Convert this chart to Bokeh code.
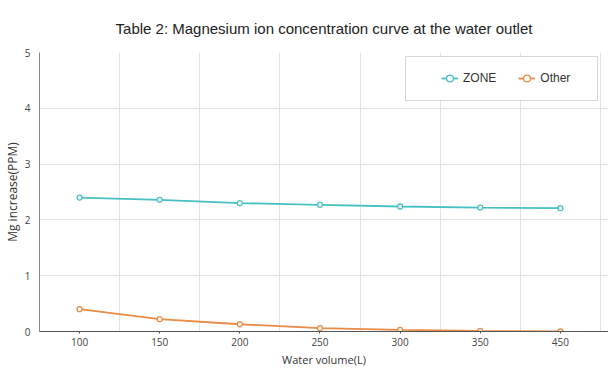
from bokeh.plotting import figure
from bokeh.models import FixedTicker, Legend, LegendItem, BoxAnnotation, Range1d
from bokeh.embed import file_html
from bokeh.resources import INLINE

title_text = "Table 2: Magnesium ion concentration curve at the water outlet"
categories = ["100", "150", "200", "250", "300", "350", "450"]
zone = [2.40, 2.36, 2.30, 2.27, 2.24, 2.22, 2.21]
other = [0.40, 0.22, 0.13, 0.06, 0.03, 0.01, 0.00]
y_ticks = [0, 1, 2, 3, 4, 5]

xs = list(range(len(categories)))

p = figure(frame_width=569, frame_height=279, output_backend="svg", toolbar_location=None,
           x_range=Range1d(-0.5, len(categories) - 0.5 + 0.1), y_range=Range1d(0, 5),
           min_border_left=29, min_border_right=0, min_border_top=52, min_border_bottom=33)
p.outline_line_color = None

p.title.text = title_text
p.title.align = "center"
p.title.vertical_align = "top"
p.title.text_font = "Liberation Sans"
p.title.text_font_size = "15px"
p.title.text_font_style = "normal"
p.title.text_color = "#222222"
p.title.standoff = 28

teal = "#45c1c4"
orange = "#ea8a45"

r1 = p.line(xs, zone, line_color=teal, line_width=1.8)
c1 = p.scatter(xs, zone, marker="circle", size=5, fill_color="white", line_color=teal, line_width=1.3)
r2 = p.line(xs, other, line_color=orange, line_width=1.8)
c2 = p.scatter(xs, other, marker="circle", size=5, fill_color="white", line_color=orange, line_width=1.3)

# axes
p.xaxis.ticker = FixedTicker(ticks=xs)
p.xaxis.major_label_overrides = {i: c for i, c in enumerate(categories)}
p.xaxis.axis_label = "Water volume(L)"
p.yaxis.ticker = FixedTicker(ticks=y_ticks)
p.yaxis.axis_label = "Mg increase(PPM)"
for ax in (p.xaxis, p.yaxis):
    ax.axis_label_text_font = "Open Sans"
    ax.axis_label_text_font_style = "normal"
    ax.axis_label_text_color = "#333333"
    ax.major_label_text_font = "Open Sans"
    ax.major_label_text_font_size = "10px"
    ax.major_label_text_color = "#444444"
    ax.minor_tick_line_color = None
p.xaxis.axis_label_text_font_size = "11px"
p.yaxis.axis_label_text_font_size = "12px"
p.xaxis.axis_line_color = "#555555"
p.xaxis.major_tick_line_color = "#555555"
p.xaxis.major_tick_in = 0
p.xaxis.major_tick_out = 2
p.xaxis.major_label_standoff = 4
p.xaxis.axis_label_standoff = 3
p.yaxis.axis_line_color = "#888888"
p.yaxis.major_tick_line_color = None
p.yaxis.major_label_standoff = 3
p.yaxis.axis_label_standoff = 1

p.xgrid.ticker = FixedTicker(ticks=[i + 0.5 for i in xs])
p.xgrid.grid_line_color = "#e2e2e2"
p.ygrid.grid_line_color = "#e2e2e2"

box = BoxAnnotation(left=366, right=558, bottom=231, top=275,
                    left_units="screen", right_units="screen",
                    bottom_units="screen", top_units="screen",
                    fill_color="white", fill_alpha=1, line_color="#777777", line_width=1)
p.add_layout(box)

legend = Legend(items=[LegendItem(label="ZONE", renderers=[r1, c1]),
                       LegendItem(label="Other", renderers=[r2, c2])],
                location=(402, 243), orientation="horizontal",
                padding=0, spacing=22, glyph_width=17, glyph_height=20,
                label_standoff=5, border_line_alpha=0, background_fill_alpha=0,
                label_text_font="Liberation Sans", label_text_font_size="12px",
                label_text_color="#333333")
p.add_layout(legend)

open("out.html", "w").write(file_html(p, INLINE))
